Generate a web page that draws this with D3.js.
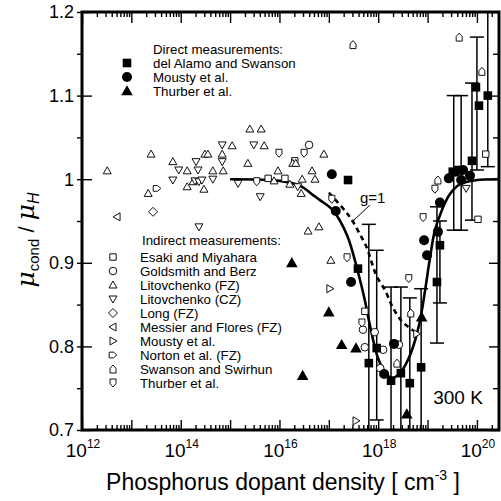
<!DOCTYPE html>
<html><head><meta charset="utf-8">
<script src="https://cdn.jsdelivr.net/npm/d3@7"></script>
<style>
body{margin:0;background:#fff}
svg{display:block}
text{font-family:"Liberation Sans",Arial,sans-serif;fill:#000}
</style>
</head><body>
<svg id="c" width="501" height="501"></svg>
<script>
// ---------- data (N in cm^-3, ratio mu_cond/mu_H) ----------
const esaki = [[5.9e15,1.001],[1.29e16,1.001],[2.04e16,1.022],[5.37e17,0.842],[1.51e20,1.030],[1.05e20,0.952]];
const goldsmith = [[3.98e16,1.041],[4.90e17,0.820],[5.37e17,0.799],[8.51e17,0.817],[1.26e18,0.796],[1.10e18,0.774],[2.63e18,0.802]];
const litoFZ = [[3.24e12,1.010],[2.19e13,0.983],[2.51e13,1.030],[6.92e13,1.021],[1.35e14,1.010],[1.35e14,0.991],[1.78e14,0.997],[2.95e14,0.988],[3.09e14,1.030],[3.55e14,1.030],[4.47e14,1.010],[6.92e14,1.030],[7.24e14,1.010],[1.10e15,1.040],[2.29e15,1.019],[2.51e15,1.060],[4.27e15,1.060],[4.90e15,1.040],[7.76e15,0.998],[9.33e15,1.010],[1.62e16,0.994],[1.86e16,1.019],[2.14e16,1.019],[2.75e16,0.983],[2.88e16,1.000],[4.57e16,1.010],[5.25e16,1.000],[7.94e16,1.030],[3.80e16,0.938],[6.31e16,0.943],[1.10e17,0.903]];
const litoCZ = [[6.92e13,0.999],[9.12e13,1.011],[1.95e14,0.998],[2.04e14,1.021],[2.24e14,1.011],[2.34e14,0.997],[2.69e14,0.999],[2.34e14,0.943],[4.47e14,1.000],[6.92e14,1.041],[6.92e14,1.021],[1.45e15,0.995],[3.02e15,1.041],[4.07e15,0.979],[2.34e16,0.991],[6.03e19,0.989]];
const longFZ = [[2.75e13,0.961]];
const messier = [[5.13e12,0.955]];
const moustyOpen = [[1.05e17,0.869],[3.55e17,0.711],[6.03e18,0.815]];
const norton = [[3.31e13,0.989]];
const swanson = [[3.09e17,1.161],[4.37e19,1.170],[1.26e20,1.129],[1.62e19,0.999],[4.57e18,0.840],[2.40e18,0.780]];
const thurberOpen = [[3.47e15,0.997],[9.77e15,1.031],[3.16e16,1.031],[1.15e17,0.976],[2.34e17,0.906],[4.68e17,0.828],[4.17e18,0.881],[8.13e18,0.954],[1.41e19,0.988]];

const delAlamo = [[2.45e17,0.999],[3.89e17,0.893],[6.46e17,0.780],[9.33e17,0.798],[1.82e18,0.759],[2.88e18,0.768],[4.37e18,0.756],[7.41e18,0.775],[1.55e19,0.877],[1.78e19,0.921],[3.24e19,1.009],[4.27e19,1.011],[7.94e19,1.022],[9.55e19,1.110],[1.10e20,1.088],[1.66e20,1.100]];
const moustyFilled = [[1.15e17,1.006],[1.38e17,0.962],[2.82e17,0.877],[1.32e18,0.767],[2.09e18,0.803],[8.51e18,0.927],[9.77e18,0.909],[1.62e19,0.937],[1.78e19,0.972],[2.69e19,1.001],[3.72e19,1.009],[5.25e19,1.011],[4.79e19,0.999],[7.24e19,1.004]];
const thurberFilled = [[1.78e16,0.900],[2.95e16,0.765],[1.0e17,0.841],[1.82e17,0.802],[3.55e17,0.798],[3.80e18,0.719],[7.59e18,0.835]];

// error bars: [N, low, high]
const errorBars = [[6.46e17,0.65,0.946],[9.33e17,0.712,0.915],[1.82e18,0.65,0.871],[2.88e18,0.65,0.871],[4.37e18,0.65,0.858],[7.41e18,0.65,0.869],[1.55e19,0.804,0.967],[1.78e19,0.852,0.950],[3.39e19,0.939,1.100],[4.79e19,0.939,1.100],[7.94e19,0.951,1.115],[1.0e20,1.011,1.170],[1.66e20,1.015,1.25]];

const fitCurve = [[1.0e15,1.000],[1.02e16,0.998],[2.63e16,0.992],[4.79e16,0.981],[6.61e16,0.975],[1.20e17,0.963],[2.34e17,0.933],[3.89e17,0.889],[5.37e17,0.855],[6.76e17,0.826],[9.77e17,0.787],[1.38e18,0.769],[1.91e18,0.762],[2.75e18,0.768],[3.80e18,0.781],[5.25e18,0.802],[7.08e18,0.832],[8.91e18,0.867],[1.12e19,0.906],[1.41e19,0.939],[1.95e19,0.963],[2.82e19,0.982],[4.57e19,0.994],[1.0e20,0.999],[2.95e20,1.000]];
const g1Curve = [[1.0e17,0.984],[2.14e17,0.962],[2.95e17,0.951],[4.27e17,0.934],[5.89e17,0.918],[7.41e17,0.900],[9.33e17,0.884],[1.38e18,0.867],[2.00e18,0.846],[3.02e18,0.830],[4.37e18,0.822],[6.31e18,0.815]];

const xMajor = [1e12,1e13,1e14,1e15,1e16,1e17,1e18,1e19,1e20];
const xLabelExp = [12,14,16,18,20];
const yMajor = [0.7,0.8,0.9,1.0,1.1,1.2];
const yLabels = ["0.7","0.8","0.9","1","1.1","1.2"];
const yMinor = [0.75,0.85,0.95,1.05,1.15];

const directLegend = ["del Alamo and Swanson","Mousty et al.","Thurber et al."];
const indirectLegend = ["Esaki and Miyahara","Goldsmith and Berz","Litovchenko (FZ)","Litovchenko (CZ)","Long (FZ)","Messier and Flores (FZ)","Mousty et al.","Norton et al. (FZ)","Swanson and Swirhun","Thurber et al."];

// ---------- drawing ----------
const svg = d3.select("#c");
const X0=82, X1=499, Y0=12, Y1=430;
const x = d3.scaleLog().domain([1e12, 2.8e20]).range([X0, X1]);
const y = d3.scaleLinear().domain([0.7, 1.2]).range([Y1, Y0]);

svg.append("defs").append("clipPath").attr("id","clip")
  .append("rect").attr("x",X0).attr("y",Y0).attr("width",X1-X0).attr("height",Y1-Y0);

const xMinor = [];
for (let d=12; d<=20; d++) for (let k=2;k<=9;k++){ const v=k*Math.pow(10,d); if (v<2.8e20) xMinor.push(v); }

function styleAxis(g){ g.select(".domain").remove(); g.selectAll(".tick line").attr("stroke","#000").attr("stroke-width",1.4); g.selectAll(".tick text").remove(); }

svg.append("g").attr("transform",`translate(0,${Y1})`).call(d3.axisBottom(x).tickValues(xMajor).tickSize(-10).tickFormat("")).call(styleAxis);
svg.append("g").attr("transform",`translate(0,${Y1})`).call(d3.axisBottom(x).tickValues(xMinor).tickSize(-5).tickFormat("")).call(styleAxis);
svg.append("g").attr("transform",`translate(0,${Y0})`).call(d3.axisTop(x).tickValues(xMajor).tickSize(-11).tickFormat("")).call(styleAxis);
svg.append("g").attr("transform",`translate(0,${Y0})`).call(d3.axisTop(x).tickValues(xMinor).tickSize(-5).tickFormat("")).call(styleAxis);
svg.append("g").attr("transform",`translate(${X0},0)`).call(d3.axisLeft(y).tickValues(yMajor).tickSize(-10).tickFormat("")).call(styleAxis);
svg.append("g").attr("transform",`translate(${X0},0)`).call(d3.axisLeft(y).tickValues(yMajor.concat(yMinor)).tickSize(5).tickFormat("")).call(styleAxis);
svg.append("g").attr("transform",`translate(${X1},0)`).call(d3.axisRight(y).tickValues(yMajor).tickSize(-10).tickFormat("")).call(styleAxis);
svg.append("g").attr("transform",`translate(${X1},0)`).call(d3.axisRight(y).tickValues(yMinor).tickSize(-6).tickFormat("")).call(styleAxis);

// frame
svg.append("rect").attr("x",X0).attr("y",Y0).attr("width",X1-X0).attr("height",Y1-Y0)
  .attr("fill","none").attr("stroke","#000").attr("stroke-width",3);

// y tick labels
svg.append("g").selectAll("text").data(yMajor).join("text")
  .attr("x",74).attr("y",d=>y(d)).attr("dy","0.36em").attr("text-anchor","end")
  .attr("font-size",18).text((d,i)=>yLabels[i]);

// x tick labels
const xl = svg.append("g").selectAll("text").data(xLabelExp).join("text")
  .attr("x",d=>x(Math.pow(10,d))+1).attr("y",457).attr("text-anchor","middle").attr("font-size",19);
xl.append("tspan").text("10");
xl.append("tspan").attr("font-size",12).attr("dy",-9).text(d=>d);

// axis titles
const xt = svg.append("text").attr("x",283).attr("y",490).attr("text-anchor","middle").attr("font-size",23);
xt.append("tspan").text("Phosphorus dopant density  [ cm");
xt.append("tspan").attr("font-size",14).attr("dy",-10).text("-3");
xt.append("tspan").attr("dy",10).text(" ]");

const yt = svg.append("text").attr("transform","translate(34,240) rotate(-90)").attr("text-anchor","middle");
yt.append("tspan").attr("font-family","DejaVu Serif").attr("font-style","italic").attr("font-size",25).text("μ");
yt.append("tspan").attr("font-size",15).attr("dy",5).text("cond");
yt.append("tspan").attr("font-size",22).attr("dy",-5).text(" / ");
yt.append("tspan").attr("font-family","DejaVu Serif").attr("font-style","italic").attr("font-size",25).text("μ");
yt.append("tspan").attr("font-size",16).attr("font-style","italic").attr("dy",5).text("H");

const plot = svg.append("g").attr("clip-path","url(#clip)");

// error bars
const eb = plot.append("g").attr("stroke","#000").attr("stroke-width",1.5);
errorBars.forEach(([n,lo,hi])=>{
  const cx = x(n);
  eb.append("line").attr("x1",cx).attr("x2",cx).attr("y1",y(lo)).attr("y2",y(hi));
  eb.append("line").attr("x1",cx-7).attr("x2",cx+7).attr("y1",y(lo)).attr("y2",y(lo));
  eb.append("line").attr("x1",cx-7).attr("x2",cx+7).attr("y1",y(hi)).attr("y2",y(hi));
});

// curves
const line = d3.line().x(d=>x(d[0])).y(d=>y(d[1])).curve(d3.curveCatmullRom.alpha(0.5));
plot.append("path").attr("d",line(fitCurve)).attr("fill","none").attr("stroke","#000").attr("stroke-width",2.6);
plot.append("path").attr("d",line(g1Curve)).attr("fill","none").attr("stroke","#000").attr("stroke-width",2.6).attr("stroke-dasharray","5,4");

// g=1 annotation
svg.append("text").attr("x",x(4.27e17)).attr("y",y(0.972)).attr("font-size",15).text("g=1");
svg.append("line").attr("x1",x(6.76e17)).attr("y1",y(0.969)).attr("x2",x(3.09e17)).attr("y2",y(0.950)).attr("stroke","#000").attr("stroke-width",1);
svg.append("circle").attr("cx",x(3.09e17)).attr("cy",y(0.950)).attr("r",1.5).attr("fill","#000");

// 300 K
svg.append("text").attr("x",x(1.32e20)).attr("y",y(0.731)).attr("text-anchor","end").attr("font-size",19).text("300 K");

// marker shapes
function shape(type, r){
  switch(type){
    case "square": return `M${-r},${-r}H${r}V${r}H${-r}Z`;
    case "circle": return `M${r},0A${r},${r} 0 1,1 ${-r},0A${r},${r} 0 1,1 ${r},0Z`;
    case "up": return `M0,${-r}L${r},${r*0.75}L${-r},${r*0.75}Z`;
    case "down": return `M0,${r}L${r},${-r*0.75}L${-r},${-r*0.75}Z`;
    case "left": return `M${-r},0L${r*0.75},${-r}L${r*0.75},${r}Z`;
    case "right": return `M${r},0L${-r*0.75},${-r}L${-r*0.75},${r}Z`;
    case "diamond": return `M0,${-r}L${r},0L0,${r}L${-r},0Z`;
    case "house": return `M${-r*0.75},${r}V${-r*0.15}L0,${-r}L${r*0.75},${-r*0.15}V${r}Z`;
    case "shield": return `M${-r*0.75},${-r}H${r*0.75}V${r*0.15}L0,${r}L${-r*0.75},${r*0.15}Z`;
    case "norton": return `M${-r},${-r*0.75}H${r*0.15}L${r},0L${r*0.15},${r*0.75}H${-r}Z`;
  }
}

const openSeries = [
  {data:esaki, shape:"square", r:3.2},
  {data:goldsmith, shape:"circle", r:3.8},
  {data:litoFZ, shape:"up", r:4},
  {data:litoCZ, shape:"down", r:4},
  {data:longFZ, shape:"diamond", r:4.5},
  {data:messier, shape:"left", r:4},
  {data:moustyOpen, shape:"right", r:4},
  {data:norton, shape:"norton", r:3.8},
  {data:swanson, shape:"house", r:4},
  {data:thurberOpen, shape:"shield", r:4}
];
const filledSeries = [
  {data:delAlamo, shape:"square", r:4.3},
  {data:moustyFilled, shape:"circle", r:5},
  {data:thurberFilled, shape:"up", r:5.8}
];

const mk = plot.append("g");
openSeries.forEach(s=>{
  mk.append("g").selectAll("path").data(s.data).join("path")
    .attr("transform",d=>`translate(${x(d[0])},${y(d[1])})`)
    .attr("d",shape(s.shape,s.r)).attr("fill","#fff").attr("stroke","#111").attr("stroke-width",1);
});
filledSeries.forEach(s=>{
  mk.append("g").selectAll("path").data(s.data).join("path")
    .attr("transform",d=>`translate(${x(d[0])},${y(d[1])})`)
    .attr("d",shape(s.shape,s.r)).attr("fill","#000");
});

// legends
const LF = 13.3;
const lg = svg.append("g");
lg.append("text").attr("x",153).attr("y",53.5).attr("font-size",LF).text("Direct measurements:");
directLegend.forEach((t,i)=>{
  const yy = 63 + i*14;
  lg.append("path").attr("transform",`translate(127,${yy})`).attr("d",shape(filledSeries[i].shape,filledSeries[i].r)).attr("fill","#000");
  lg.append("text").attr("x",153).attr("y",yy+5).attr("font-size",LF).text(t);
});
lg.append("text").attr("x",142).attr("y",245).attr("font-size",LF).text("Indirect measurements:");
indirectLegend.forEach((t,i)=>{
  const yy = 257 + i*14;
  lg.append("path").attr("transform",`translate(113,${yy})`).attr("d",shape(openSeries[i].shape,openSeries[i].r)).attr("fill","#fff").attr("stroke","#111").attr("stroke-width",1);
  lg.append("text").attr("x",140).attr("y",yy+5).attr("font-size",LF).text(t);
});
</script>
</body></html>
